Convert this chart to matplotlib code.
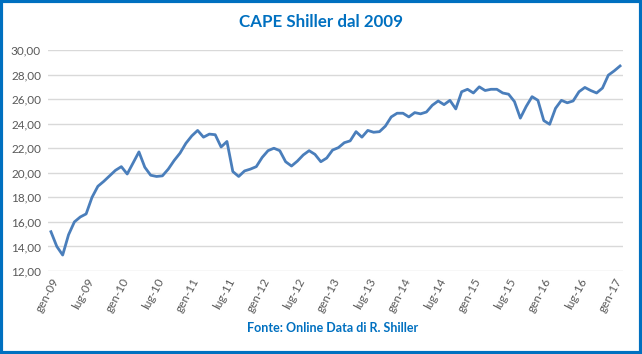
import matplotlib
matplotlib.use("Agg")
import matplotlib.pyplot as plt
from matplotlib.patches import Rectangle

# CAPE Shiller, mensile da gen-2009 a feb-2017
cape = [
    15.2, 14.0, 13.3, 14.95, 16.0, 16.4, 16.65, 18.0, 18.9, 19.3, 19.75, 20.2,   # 2009
    20.5, 19.9, 20.8, 21.7, 20.45, 19.8, 19.7, 19.75, 20.3, 21.0, 21.6, 22.4,    # 2010
    23.0, 23.45, 22.9, 23.15, 23.1, 22.1, 22.55, 20.1, 19.7, 20.15, 20.3, 20.5,  # 2011
    21.25, 21.8, 22.0, 21.8, 20.9, 20.55, 20.95, 21.45, 21.8, 21.5, 20.9, 21.2,  # 2012
    21.85, 22.05, 22.45, 22.6, 23.35, 22.9, 23.45, 23.3, 23.35, 23.8, 24.55, 24.85,  # 2013
    24.85, 24.55, 24.9, 24.8, 24.95, 25.5, 25.85, 25.55, 25.9, 25.2, 26.6, 26.8,  # 2014
    26.5, 27.0, 26.7, 26.8, 26.8, 26.5, 26.4, 25.8, 24.45, 25.4, 26.2, 25.9,     # 2015
    24.25, 23.95, 25.25, 25.9, 25.7, 25.85, 26.6, 26.95, 26.7, 26.5, 26.9, 27.95,  # 2016
    28.3, 28.7,                                                                   # 2017
]
tick_labels = ["gen-09", "lug-09", "gen-10", "lug-10", "gen-11", "lug-11",
               "gen-12", "lug-12", "gen-13", "lug-13", "gen-14", "lug-14",
               "gen-15", "lug-15", "gen-16", "lug-16", "gen-17"]
y_ticks = [12, 14, 16, 18, 20, 22, 24, 26, 28, 30]

blue = "#0070c0"
plt.rcParams["font.family"] = ["Lato", "DejaVu Sans"]

fig = plt.figure(figsize=(6.42, 3.54), dpi=100)
ax = fig.add_axes([48 / 642, 1 - 271 / 354, 575 / 642, 221 / 354])

ax.plot(range(len(cape)), cape, color="#4a7ebb", lw=2.0, solid_joinstyle="round")

ax.set_xlim(-0.5, len(cape) - 0.5)
ax.set_ylim(12, 30)
ax.set_yticks(y_ticks)
ax.set_yticklabels([f"{v:.2f}".replace(".", ",") for v in y_ticks],
                   color="#595959", fontsize=8.5)
ax.set_xticks(range(0, 6 * len(tick_labels), 6))
ax.set_xticklabels(tick_labels, rotation=62, ha="right", rotation_mode="anchor",
                   color="#595959", fontsize=8.5)
ax.tick_params(length=0, pad=5)
ax.tick_params(axis="x", pad=4)
ax.grid(axis="y", color="#d9d9d9", lw=1)
ax.set_axisbelow(True)
for s in ax.spines.values():
    s.set_visible(False)

fig.text(0.5, 1 - 22 / 354, "CAPE Shiller dal 2009", ha="center", va="center",
         color=blue, fontsize=12.2, fontweight="bold")
fig.text(333 / 642, 1 - 328 / 354, "Fonte: Online Data di R. Shiller", ha="center",
         va="center", color=blue, fontsize=9, fontweight="bold")

fig.patches.append(Rectangle((0.002, 0.003), 0.996, 0.994, transform=fig.transFigure,
                             fill=False, edgecolor=blue, lw=3))

fig.savefig("out.png", dpi=100)
